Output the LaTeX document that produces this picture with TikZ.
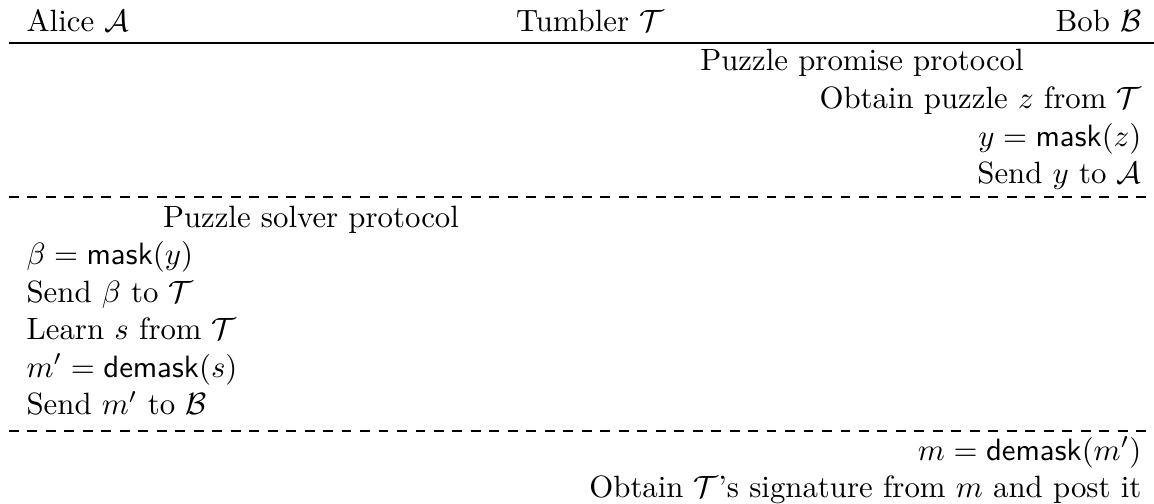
\documentclass[tikz,border=0pt]{standalone}
\begin{document}
\begin{tikzpicture}[x=0.3247pt,y=-0.3247pt,
  lt/.style={anchor=base west,inner sep=0pt},
  rt/.style={anchor=base east,inner sep=0pt},
  ct/.style={anchor=base,inner sep=0pt},
  solidrule/.style={line width=0.4pt},
  dashrule/.style={line width=0.4pt,dash pattern=on 3.2pt off 2.8pt}]
\useasboundingbox (0,0) rectangle (1154,504);
% header
\node[lt] (alice) at (26,32) {Alice $\mathcal{A}$};
\node[ct] (tumbler) at (590,32) {Tumbler $\mathcal{T}$};
\node[rt] (bob) at (1142,32) {Bob $\mathcal{B}$};
\coordinate (r0l) at (9,43); \coordinate (r0r) at (1154,43);
\draw[solidrule] (r0l) -- (r0r);
% puzzle promise
\node[ct] (pp) at (862,71) {Puzzle promise protocol};
\node[rt] (b1) at (1142,108.5) {Obtain puzzle $z$ from $\mathcal{T}$};
\node[rt] (b2) at (1142,146) {$y=\mathsf{mask}(z)$};
\node[rt] (b3) at (1142,183.5) {Send $y$ to $\mathcal{A}$};
\coordinate (r1l) at (9,197); \coordinate (r1r) at (1154,197);
\draw[dashrule] (r1l) -- (r1r);
% puzzle solver
\node[ct] (ps) at (311,227) {Puzzle solver protocol};
\node[lt] (a1) at (26,264.5) {$\beta=\mathsf{mask}(y)$};
\node[lt] (a2) at (26,302) {Send $\beta$ to $\mathcal{T}$};
\node[lt] (a3) at (26,339.5) {Learn $s$ from $\mathcal{T}$};
\node[lt] (a4) at (26,377) {$m'=\mathsf{demask}(s)$};
\node[lt] (a5) at (26,414.5) {Send $m'$ to $\mathcal{B}$};
\coordinate (r2l) at (9,431); \coordinate (r2r) at (1154,431);
\draw[dashrule] (r2l) -- (r2r);
% final
\node[rt] (c1) at (1142,460) {$m=\mathsf{demask}(m')$};
\node[rt] (c2) at (1142,497) {Obtain $\mathcal{T}$'s signature from $m$ and post it};
\end{tikzpicture}
\end{document}
